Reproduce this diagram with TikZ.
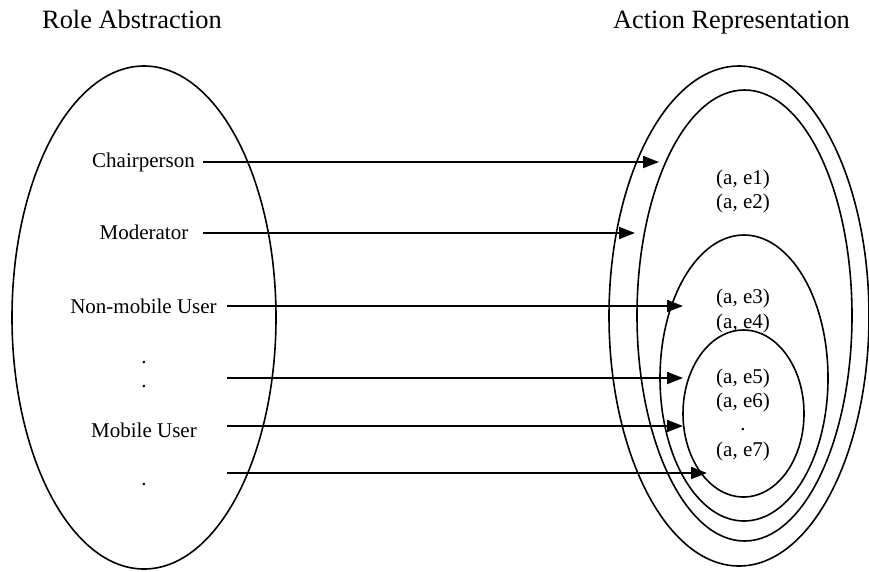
\documentclass[tikz,border=0pt]{standalone}
\usepackage{fontspec}
\setmainfont{Liberation Serif}
\usetikzlibrary{arrows.meta,shapes.geometric}
\tikzset{
  lbl/.style={anchor=base, inner sep=0pt, font=\fontsize{21}{25}\selectfont},
  ttl/.style={anchor=base, inner sep=0pt, font=\fontsize{26.4}{30}\selectfont},
  oval/.style={ellipse, draw, line width=1.6pt, inner sep=0pt, outer sep=0pt},
  link/.style={line width=1.8pt, -{Triangle[length=16pt,width=12pt]}}
}
\begin{document}
\begin{tikzpicture}[x=1pt,y=-1pt]
\useasboundingbox (0,0) rectangle (869,571);
% titles
\node[ttl] (tl) at (132,28) {Role Abstraction};
\node[ttl] (tr) at (731.5,28) {Action Representation};
% left ellipse
\node[oval, minimum width=264pt, minimum height=503pt] (L) at (144,317.5) {};
% right ellipses
\node[oval, minimum width=260pt, minimum height=500pt] (R1) at (739,316) {};
\node[oval, minimum width=215pt, minimum height=451pt] (R2) at (744.5,315.5) {};
\node[oval, minimum width=168pt, minimum height=286pt] (R3) at (744,378) {};
\node[oval, minimum width=121pt, minimum height=167pt] (R4) at (743.5,413.5) {};
% left labels
\node[lbl] (chair) at (143.5,167) {Chairperson};
\node[lbl] (mod) at (144,239) {Moderator};
\node[lbl] (nonmob) at (143.5,313) {Non-mobile User};
\node[lbl] (d1) at (144,363) {.};
\node[lbl] (d2) at (144,387) {.};
\node[lbl] (mob) at (144,437) {Mobile User};
\node[lbl] (d3) at (144,485) {.};
% right labels
\node[lbl] (e1) at (743,184) {(a, e1)};
\node[lbl] (e2) at (743,208) {(a, e2)};
\node[lbl] (e3) at (743,303) {(a, e3)};
\node[lbl] (e4) at (743,328) {(a, e4)};
\node[lbl] (e5) at (743,383) {(a, e5)};
\node[lbl] (e6) at (743,407) {(a, e6)};
\node[lbl] (d4) at (743,430) {.};
\node[lbl] (e7) at (743,456) {(a, e7)};
% connector ends
\coordinate (s1) at (203,162);
\coordinate (t1) at (659,162);
\coordinate (s2) at (203,233);
\coordinate (t2) at (635,233);
\coordinate (s3) at (227,306);
\coordinate (t3) at (683,306);
\coordinate (s4) at (227,378);
\coordinate (t4) at (683,378);
\coordinate (s5) at (227,426);
\coordinate (t5) at (683,426);
\coordinate (s6) at (227,473);
\coordinate (t6) at (707,473);
% connectors
\draw[link] (s1) -- (t1);
\draw[link] (s2) -- (t2);
\draw[link] (s3) -- (t3);
\draw[link] (s4) -- (t4);
\draw[link] (s5) -- (t5);
\draw[link] (s6) -- (t6);
\end{tikzpicture}
\end{document}
